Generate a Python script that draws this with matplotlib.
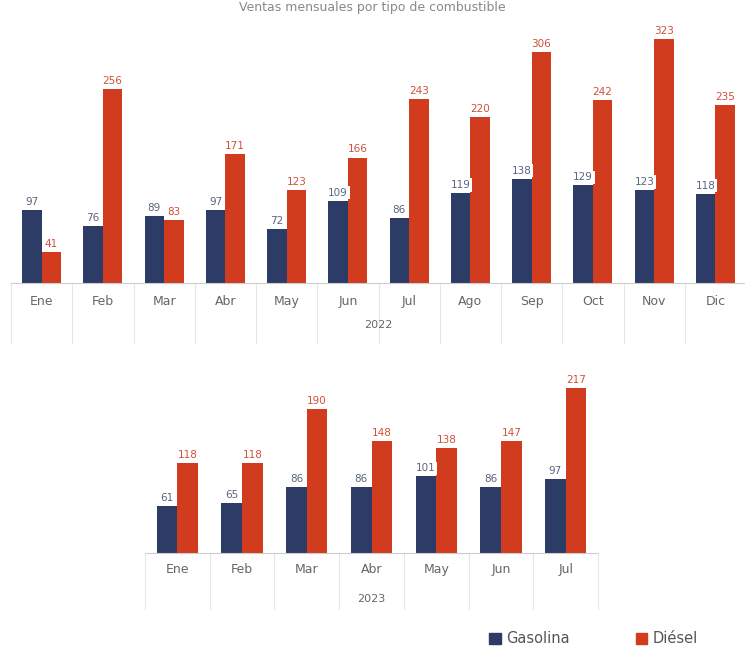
import matplotlib
matplotlib.use("Agg")
import matplotlib.pyplot as plt
import numpy as np
from matplotlib.patches import Patch

months_top = ["Ene", "Feb", "Mar", "Abr", "May", "Jun", "Jul", "Ago", "Sep", "Oct", "Nov", "Dic"]
gas_top = [97, 76, 89, 97, 72, 109, 86, 119, 138, 129, 123, 118]
die_top = [41, 256, 83, 171, 123, 166, 243, 220, 306, 242, 323, 235]
year_top = "2022"

months_bot = ["Ene", "Feb", "Mar", "Abr", "May", "Jun", "Jul"]
gas_bot = [61, 65, 86, 86, 101, 86, 97]
die_bot = [118, 118, 190, 148, 138, 147, 217]
year_bot = "2023"

series_names = ["Gasolina", "Diésel"]
title = "Ventas mensuales por tipo de combustible"

BLUE = "#2D3C66"
RED = "#D13B1E"
GREY = "#666666"
PXU = 0.756  # pixels per unit

W, H = 745, 653
fig = plt.figure(figsize=(W / 100, H / 100), dpi=100)

def px_axes(left, top, right, bottom):
    return fig.add_axes([left / W, 1 - bottom / H, (right - left) / W, (bottom - top) / H])

def draw(ax, cats, g, d, ymax, year, month_px, year_px, sep_px):
    x = np.arange(len(cats))
    w = 0.32
    ax.bar(x - w / 2, g, width=w, color=BLUE, zorder=2)
    ax.bar(x + w / 2, d, width=w, color=RED, zorder=2)
    for xi, v in zip(x, g):
        ax.text(xi - w / 2, v + 4, str(v), ha="center", va="bottom", fontsize=7.5,
                color="#5a6480", zorder=3,
                bbox=dict(boxstyle="square,pad=0.15", fc="white", ec="none"))
    for xi, v in zip(x, d):
        ax.text(xi + w / 2, v + 4, str(v), ha="center", va="bottom", fontsize=7.5,
                color="#d0503a", zorder=3,
                bbox=dict(boxstyle="square,pad=0.15", fc="white", ec="none"))
    ax.set_xlim(-0.5, len(cats) - 0.5)
    ax.set_ylim(0, ymax)
    for s in ["top", "right", "left"]:
        ax.spines[s].set_visible(False)
    ax.spines["bottom"].set_color("#cccccc")
    ax.set_yticks([])
    ax.set_xticks([])
    for xi, c in zip(x, cats):
        ax.text(xi, -month_px / PXU, c, ha="center", va="center", fontsize=9, color=GREY)
    for b in np.arange(-0.5, len(cats) + 0.5, 1):
        ax.plot([b, b], [0, -sep_px / PXU], color="#e6e6e6", lw=0.8, clip_on=False)
    ax.text((len(cats) - 1) / 2, -year_px / PXU, year, ha="center", va="center",
            fontsize=8, color=GREY)

ax1 = px_axes(11, 283 - 350 * PXU, 746, 283)
draw(ax1, months_top, gas_top, die_top, 350, year_top, 18, 42, 60)

ax2 = px_axes(145, 552.5 - 230 * PXU, 598, 552.5)
draw(ax2, months_bot, gas_bot, die_bot, 230, year_bot, 17, 46, 56)

fig.text(0.5, 0.998, title, ha="center", va="top", fontsize=9, color="#888888")

handles = [Patch(color=BLUE), Patch(color=RED)]
fig.legend(handles, series_names, loc="lower right", bbox_to_anchor=(0.955, -0.01),
           ncol=2, frameon=False, fontsize=10.5, handlelength=0.8, handleheight=0.8,
           columnspacing=4.5, handletextpad=0.4, labelcolor="#555555")

fig.savefig("out.png", dpi=100, facecolor="white")
